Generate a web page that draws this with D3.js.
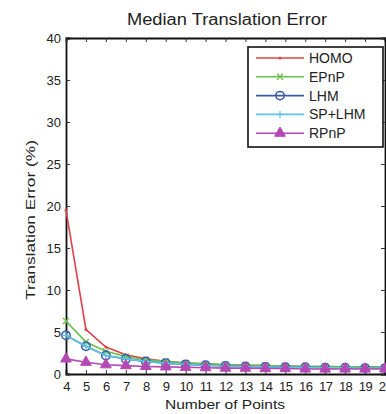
<!DOCTYPE html>
<html>
<head>
  <style>
    body { margin: 0; background: #fff; }
    text { font-family: "Liberation Sans", Arial, sans-serif; fill: #222; }
  </style>
  <title>Median Translation Error</title>
</head>
<body>
  <script src="https://cdn.jsdelivr.net/npm/d3@7"></script>
  <script>
    // data
    var points = [4, 5, 6, 7, 8, 9, 10, 11, 12, 13, 14, 15, 16, 17, 18, 19, 20];
    var homo   = [19.5, 5.3, 3.2, 2.3, 1.8, 1.5, 1.3, 1.2, 1.1, 1.05, 1.0, 0.95, 0.9, 0.9, 0.85, 0.85, 0.8];
    var epnp   = [6.3, 3.8, 2.7, 2.1, 1.7, 1.5, 1.3, 1.2, 1.1, 1.05, 1.0, 0.95, 0.9, 0.9, 0.85, 0.85, 0.8];
    var lhm    = [4.6, 3.3, 2.2, 1.8, 1.5, 1.3, 1.15, 1.05, 0.95, 0.9, 0.85, 0.8, 0.8, 0.75, 0.75, 0.7, 0.7];
    var splhm  = [4.6, 3.3, 2.2, 1.8, 1.5, 1.3, 1.15, 1.05, 0.95, 0.9, 0.85, 0.8, 0.8, 0.75, 0.75, 0.7, 0.7];
    var rpnp   = [1.8, 1.4, 1.1, 1.0, 0.9, 0.85, 0.8, 0.75, 0.7, 0.7, 0.65, 0.65, 0.6, 0.6, 0.6, 0.6, 0.6];
    var yTicks = [0, 5, 10, 15, 20, 25, 30, 35, 40];

    var series = [
      { name: "HOMO",   values: homo,  color: "#e0404a", marker: "dot" },
      { name: "EPnP",   values: epnp,  color: "#6cc04c", marker: "x" },
      { name: "LHM",    values: lhm,   color: "#3a58a8", marker: "circle" },
      { name: "SP+LHM", values: splhm, color: "#5cc4e4", marker: "plus" },
      { name: "RPnP",   values: rpnp,  color: "#b448b4", marker: "tri" }
    ];

    var width = 386, height = 414;
    var mLeft = 66, mRight = 385, mTop = 38, mBottom = 374;

    var svg = d3.select("body").append("svg").attr("width", width).attr("height", height);

    var x = d3.scaleLinear().domain([4, 20]).range([mLeft, mRight]);
    var y = d3.scaleLinear().domain([0, 40]).range([mBottom, mTop]);

    // axes with inward ticks, MATLAB style
    var xAxis = d3.axisBottom(x).tickValues(points).tickSize(-4).tickPadding(8).tickFormat(d3.format("d"));
    var yAxis = d3.axisLeft(y).tickValues(yTicks).tickSize(-4).tickPadding(5);
    var gx = svg.append("g").attr("transform", "translate(0," + mBottom + ")").call(xAxis);
    var gy = svg.append("g").attr("transform", "translate(" + mLeft + ",0)").call(yAxis);
    var gxt = svg.append("g").attr("transform", "translate(0," + mTop + ")")
      .call(d3.axisTop(x).tickValues(points).tickSize(-4).tickFormat(""));
    var gyr = svg.append("g").attr("transform", "translate(" + mRight + ",0)")
      .call(d3.axisRight(y).tickValues(yTicks).tickSize(-4).tickFormat(""));
    [gx, gy, gxt, gyr].forEach(function(g) {
      g.select(".domain").attr("stroke", "#111").attr("stroke-width", 1.8);
      g.selectAll(".tick line").attr("stroke", "#333");
      g.selectAll(".tick text").attr("font-size", 13).attr("font-family", "Liberation Sans, Arial, sans-serif").attr("fill", "#222");
    });
    gx.selectAll(".tick text").attr("letter-spacing", -0.5);

    var line = d3.line().x(function(d, i) { return x(points[i]); }).y(function(d) { return y(d); });

    function drawMarker(g, type, cx, cy, color) {
      if (type === "dot") {
        g.append("circle").attr("cx", cx).attr("cy", cy).attr("r", 1.5).attr("fill", color);
      } else if (type === "x") {
        g.append("path").attr("d", "M" + (cx-3) + "," + (cy-3) + "L" + (cx+3) + "," + (cy+3) + "M" + (cx-3) + "," + (cy+3) + "L" + (cx+3) + "," + (cy-3))
          .attr("stroke", color).attr("stroke-width", 1.3);
      } else if (type === "circle") {
        g.append("circle").attr("cx", cx).attr("cy", cy).attr("r", 4.2).attr("fill", "none").attr("stroke", color).attr("stroke-width", 1.5);
      } else if (type === "plus") {
        g.append("path").attr("d", "M" + (cx-3.5) + "," + cy + "L" + (cx+3.5) + "," + cy + "M" + cx + "," + (cy-3.5) + "L" + cx + "," + (cy+3.5))
          .attr("stroke", color).attr("stroke-width", 1.2);
      } else if (type === "tri") {
        g.append("path").attr("d", d3.symbol().type(d3.symbolTriangle).size(50)()).attr("transform", "translate(" + cx + "," + cy + ")")
          .attr("fill", color).attr("stroke", color);
      }
    }

    var plot = svg.append("g");
    series.forEach(function(s) {
      plot.append("path").datum(s.values).attr("d", line).attr("fill", "none")
        .attr("stroke", s.color).attr("stroke-width", 1.6);
      s.values.forEach(function(v, i) { drawMarker(plot, s.marker, x(points[i]), y(v), s.color); });
    });

    // legend
    var lg = svg.append("g");
    lg.append("rect").attr("x", 248).attr("y", 47).attr("width", 135).attr("height", 100)
      .attr("fill", "#fff").attr("stroke", "#111").attr("stroke-width", 1.6);
    series.forEach(function(s, i) {
      var ly = 58 + i * 18.8;
      lg.append("line").attr("x1", 256).attr("x2", 304).attr("y1", ly).attr("y2", ly)
        .attr("stroke", s.color).attr("stroke-width", 1.6);
      drawMarker(lg, s.marker, 280, ly, s.color);
      lg.append("text").attr("x", 309).attr("y", ly + 5).attr("font-size", 14).text(s.name);
    });

    svg.append("text").attr("x", 227).attr("y", 25).attr("text-anchor", "middle")
      .attr("font-size", 16).attr("textLength", 200).attr("lengthAdjust", "spacingAndGlyphs")
      .text("Median Translation Error");
    svg.append("text").attr("x", 225).attr("y", 409).attr("text-anchor", "middle")
      .attr("font-size", 13.5).attr("textLength", 120).attr("lengthAdjust", "spacingAndGlyphs")
      .text("Number of Points");
    svg.append("text").attr("transform", "translate(35,220) rotate(-90)")
      .attr("text-anchor", "middle").attr("font-size", 13.5)
      .attr("textLength", 160).attr("lengthAdjust", "spacingAndGlyphs")
      .text("Translation Error (%)");
  </script>
</body>
</html>
